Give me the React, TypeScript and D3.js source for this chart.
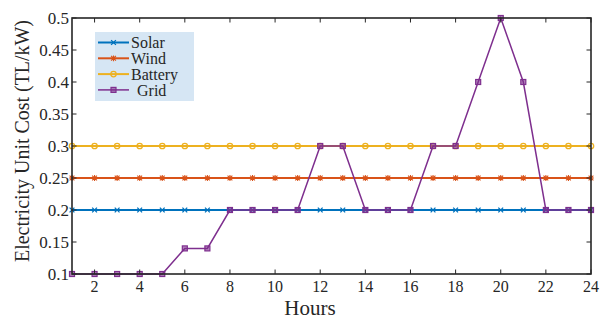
import { useRef, useEffect } from "react";
import * as d3 from "d3";

const hours = d3.range(1, 25);
const solar = Array(24).fill(0.2);
const wind = Array(24).fill(0.25);
const battery = Array(24).fill(0.3);
const grid = [0.1, 0.1, 0.1, 0.1, 0.1, 0.14, 0.14, 0.2, 0.2, 0.2, 0.2, 0.3, 0.3, 0.2, 0.2, 0.2, 0.3, 0.3, 0.4, 0.5, 0.4, 0.2, 0.2, 0.2];
const xTicks = [2, 4, 6, 8, 10, 12, 14, 16, 18, 20, 22, 24];
const yTicks = [0.1, 0.15, 0.2, 0.25, 0.3, 0.35, 0.4, 0.45, 0.5];

const series = [
  { name: "Solar", values: solar, color: "#0072BD", marker: "x", width: 2 },
  { name: "Wind", values: wind, color: "#D95319", marker: "star", width: 2 },
  { name: "Battery", values: battery, color: "#EDB120", marker: "circle", width: 2 },
  { name: "Grid", values: grid, color: "#7E2F8E", marker: "square", width: 1.5 },
];

const W = 602;
const H = 321;
const margin = { top: 18, right: 11, bottom: 47, left: 72 };
const FONT = "'Liberation Serif', 'Times New Roman', serif";

function drawMarker(g: d3.Selection<SVGGElement, unknown, null, undefined>, kind: string, x: number, y: number, color: string) {
  const s = 2.4;
  if (kind === "x") {
    g.append("path")
      .attr("d", `M${x - s},${y - s}L${x + s},${y + s}M${x - s},${y + s}L${x + s},${y - s}`)
      .attr("stroke", color).attr("stroke-width", 1.3).attr("fill", "none");
  } else if (kind === "star") {
    g.append("path")
      .attr("d", `M${x - s},${y - s}L${x + s},${y + s}M${x - s},${y + s}L${x + s},${y - s}M${x},${y - s * 1.2}L${x},${y + s * 1.2}M${x - s * 1.2},${y}L${x + s * 1.2},${y}`)
      .attr("stroke", color).attr("stroke-width", 1.1).attr("fill", "none");
  } else if (kind === "circle") {
    g.append("circle").attr("cx", x).attr("cy", y).attr("r", 2.7)
      .attr("stroke", color).attr("stroke-width", 1.3).attr("fill", "none");
  } else {
    g.append("rect").attr("x", x - 2.5).attr("y", y - 2.5).attr("width", 5).attr("height", 5)
      .attr("stroke", color).attr("stroke-width", 1.2).attr("fill", color).attr("fill-opacity", 0.6);
  }
}

export default function App() {
  const svgRef = useRef<SVGSVGElement>(null);

  useEffect(() => {
    if (!svgRef.current) return;
    const svg = d3.select(svgRef.current);
    svg.selectAll("*").remove();

    const innerW = W - margin.left - margin.right;
    const innerH = H - margin.top - margin.bottom;

    const x = d3.scaleLinear().domain([1, 24]).range([0, innerW]);
    const y = d3.scaleLinear().domain([0.1, 0.5]).range([innerH, 0]);

    const g = svg.append("g").attr("transform", `translate(${margin.left},${margin.top})`);

    // series
    const line = d3.line<number>().x((_, i) => x(hours[i])).y((d) => y(d));
    series.forEach((s) => {
      g.append("path")
        .datum(s.values)
        .attr("d", line)
        .attr("fill", "none")
        .attr("stroke", s.color)
        .attr("stroke-width", s.width);
      const mg = g.append("g");
      s.values.forEach((v, i) => drawMarker(mg, s.marker, x(hours[i]), y(v), s.color));
    });

    // frame and ticks
    const axisColor = "#262626";
    g.append("rect")
      .attr("width", innerW).attr("height", innerH)
      .attr("fill", "none").attr("stroke", axisColor).attr("stroke-width", 1.6);

    const tl = 4.5;
    xTicks.forEach((t) => {
      g.append("line").attr("x1", x(t)).attr("x2", x(t)).attr("y1", innerH).attr("y2", innerH - tl)
        .attr("stroke", axisColor).attr("stroke-width", 1);
      g.append("line").attr("x1", x(t)).attr("x2", x(t)).attr("y1", 0).attr("y2", tl)
        .attr("stroke", axisColor).attr("stroke-width", 1);
      g.append("text").attr("x", x(t)).attr("y", innerH + 18)
        .attr("text-anchor", "middle").attr("font-family", FONT).attr("font-size", 16)
        .attr("fill", "#262626").text(t);
    });
    yTicks.forEach((t) => {
      g.append("line").attr("x1", 0).attr("x2", tl).attr("y1", y(t)).attr("y2", y(t))
        .attr("stroke", axisColor).attr("stroke-width", 1);
      g.append("line").attr("x1", innerW).attr("x2", innerW - tl).attr("y1", y(t)).attr("y2", y(t))
        .attr("stroke", axisColor).attr("stroke-width", 1);
      g.append("text").attr("x", -3).attr("y", y(t)).attr("dy", "0.35em")
        .attr("text-anchor", "end").attr("font-family", FONT).attr("font-size", 17)
        .attr("fill", "#262626").text(String(+t.toFixed(2)));
    });

    // axis labels
    svg.append("text")
      .attr("x", 310).attr("y", 315)
      .attr("text-anchor", "middle").attr("font-family", FONT).attr("font-size", 21)
      .attr("fill", "#262626").text("Hours");
    svg.append("text")
      .attr("transform", `translate(29,141) rotate(-90)`)
      .attr("text-anchor", "middle").attr("font-family", FONT).attr("font-size", 21)
      .attr("textLength", 242).attr("lengthAdjust", "spacingAndGlyphs")
      .attr("fill", "#262626").text("Electricity Unit Cost (TL/kW)");

    // legend
    const lg = svg.append("g").attr("transform", "translate(95,32)");
    lg.append("rect").attr("width", 99).attr("height", 69).attr("fill", "#D6E6F4");
    series.forEach((s, i) => {
      const yy = 10.5 + i * 15.8;
      lg.append("line").attr("x1", 3).attr("x2", 34).attr("y1", yy).attr("y2", yy)
        .attr("stroke", s.color).attr("stroke-width", s.width);
      drawMarker(lg, s.marker, 18.5, yy, s.color);
      lg.append("text").attr("x", s.name === "Grid" ? 42 : 36).attr("y", yy).attr("dy", "0.35em")
        .attr("font-family", FONT).attr("font-size", 16).attr("fill", "#262626").text(s.name);
    });
  }, []);

  return (
    <svg ref={svgRef} width={W} height={H} style={{ position: "absolute", left: 0, top: 0, background: "#fff" }} />
  );
}
